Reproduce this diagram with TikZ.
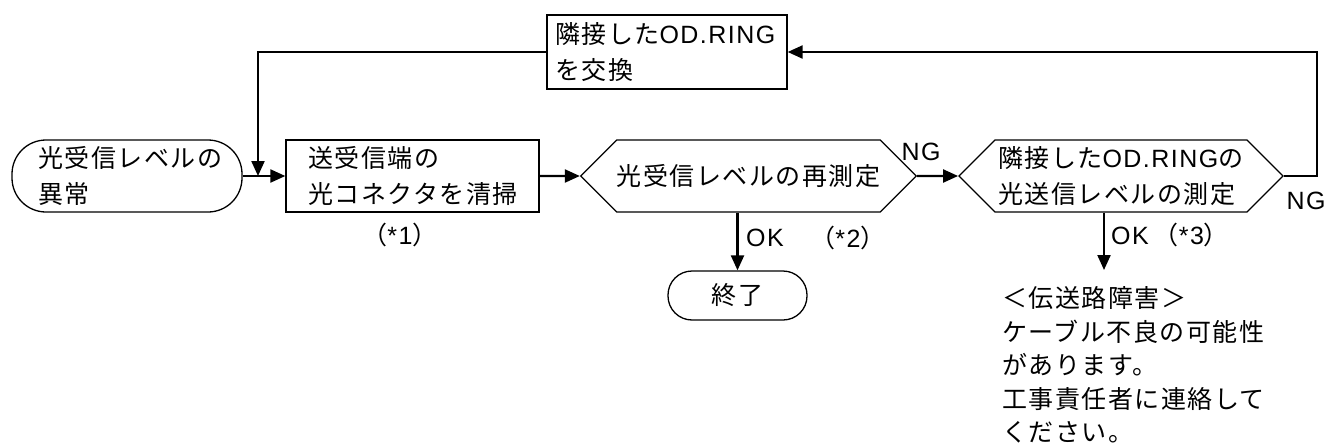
\documentclass[tikz,border=0pt]{standalone}
\usepackage{fontspec}
\setmainfont{Noto Sans CJK JP}[LetterSpace=6]
\newfontfamily\en{Liberation Sans}[LetterSpace=6]
\usetikzlibrary{arrows.meta,shapes.symbols}

\begin{document}
\begin{tikzpicture}[x=1pt,y=-1pt,
  font=\fontsize{25}{36}\selectfont,
  box/.style={draw,line width=1.3pt,minimum height=72pt,align=left,inner ysep=0pt},
  term/.style={draw,line width=1.3pt,rounded corners=34pt,minimum height=72pt},
  hexa/.style={draw,line width=1.3pt,shape=signal,signal to=east and west,
               signal pointer angle=90,minimum height=72pt,inner sep=0pt},
  lbl/.style={inner sep=0pt,font=\fontsize{25}{30}\selectfont\en},
  arr/.style={-{Triangle[length=15pt,width=13pt]},line width=2.2pt}]
\useasboundingbox (0,0) rectangle (1327,447);
\node[term,text width=178pt,inner xsep=26pt,align=left] (start) at (127,176) {光受信レベルの\\異常};
\node[box,text width=209pt,inner xsep=22pt] (clean) at (412.5,176) {送受信端の\\光コネクタを清掃};
\node[box,text width=224pt,inner xsep=8pt,minimum height=74pt] (swap) at (667,52) {隣接した{\en OD.RING}\\を交換};
\node[hexa,minimum width=333pt] (remeas) at (748.5,176) {光受信レベルの再測定};
\node[hexa,minimum width=324pt,text width=246pt,align=left] (meas) at (1121,176) {隣接した{\en OD.RING}の\\光送信レベルの測定};
\node[term,rounded corners=24pt,minimum width=139pt,minimum height=49pt] (fin) at (737.5,295.5) {終了};
\node[align=left,anchor=west,inner sep=0pt,font=\fontsize{25}{33.5}\selectfont] (fault) at (1002,365)
  {＜伝送路障害＞\\ケーブル不良の可能性\\があります。\\工事責任者に連絡して\\ください。};
\node[lbl] (ng1) at (921,152) {NG};
\node[lbl] (ng2) at (1306,201) {NG};
\node[lbl] (ok1) at (765,238) {OK};
\node[anchor=west,inner sep=0pt] (ok2) at (1111,235) {{\en OK}\hspace{5pt}（{\en *3}）};
\node (n1) at (400,235) {（{\en *1}）};
\node (n2) at (848,238) {（{\en *2}）};
\coordinate (join) at (258,176);
\coordinate (okend) at (1104,270);
\draw[arr] (start) -- (clean);
\draw[arr] (swap.west) -| (join);
\draw[arr] (clean) -- (remeas);
\draw[arr] (remeas) -- (meas);
\draw[arr] (meas.east) -- ++(33,0) |- (swap.east);
\draw[arr] (remeas.south -| fin.north) -- (fin.north);
\draw[arr] (meas.south -| okend) -- (okend);
\end{tikzpicture}
\end{document}
